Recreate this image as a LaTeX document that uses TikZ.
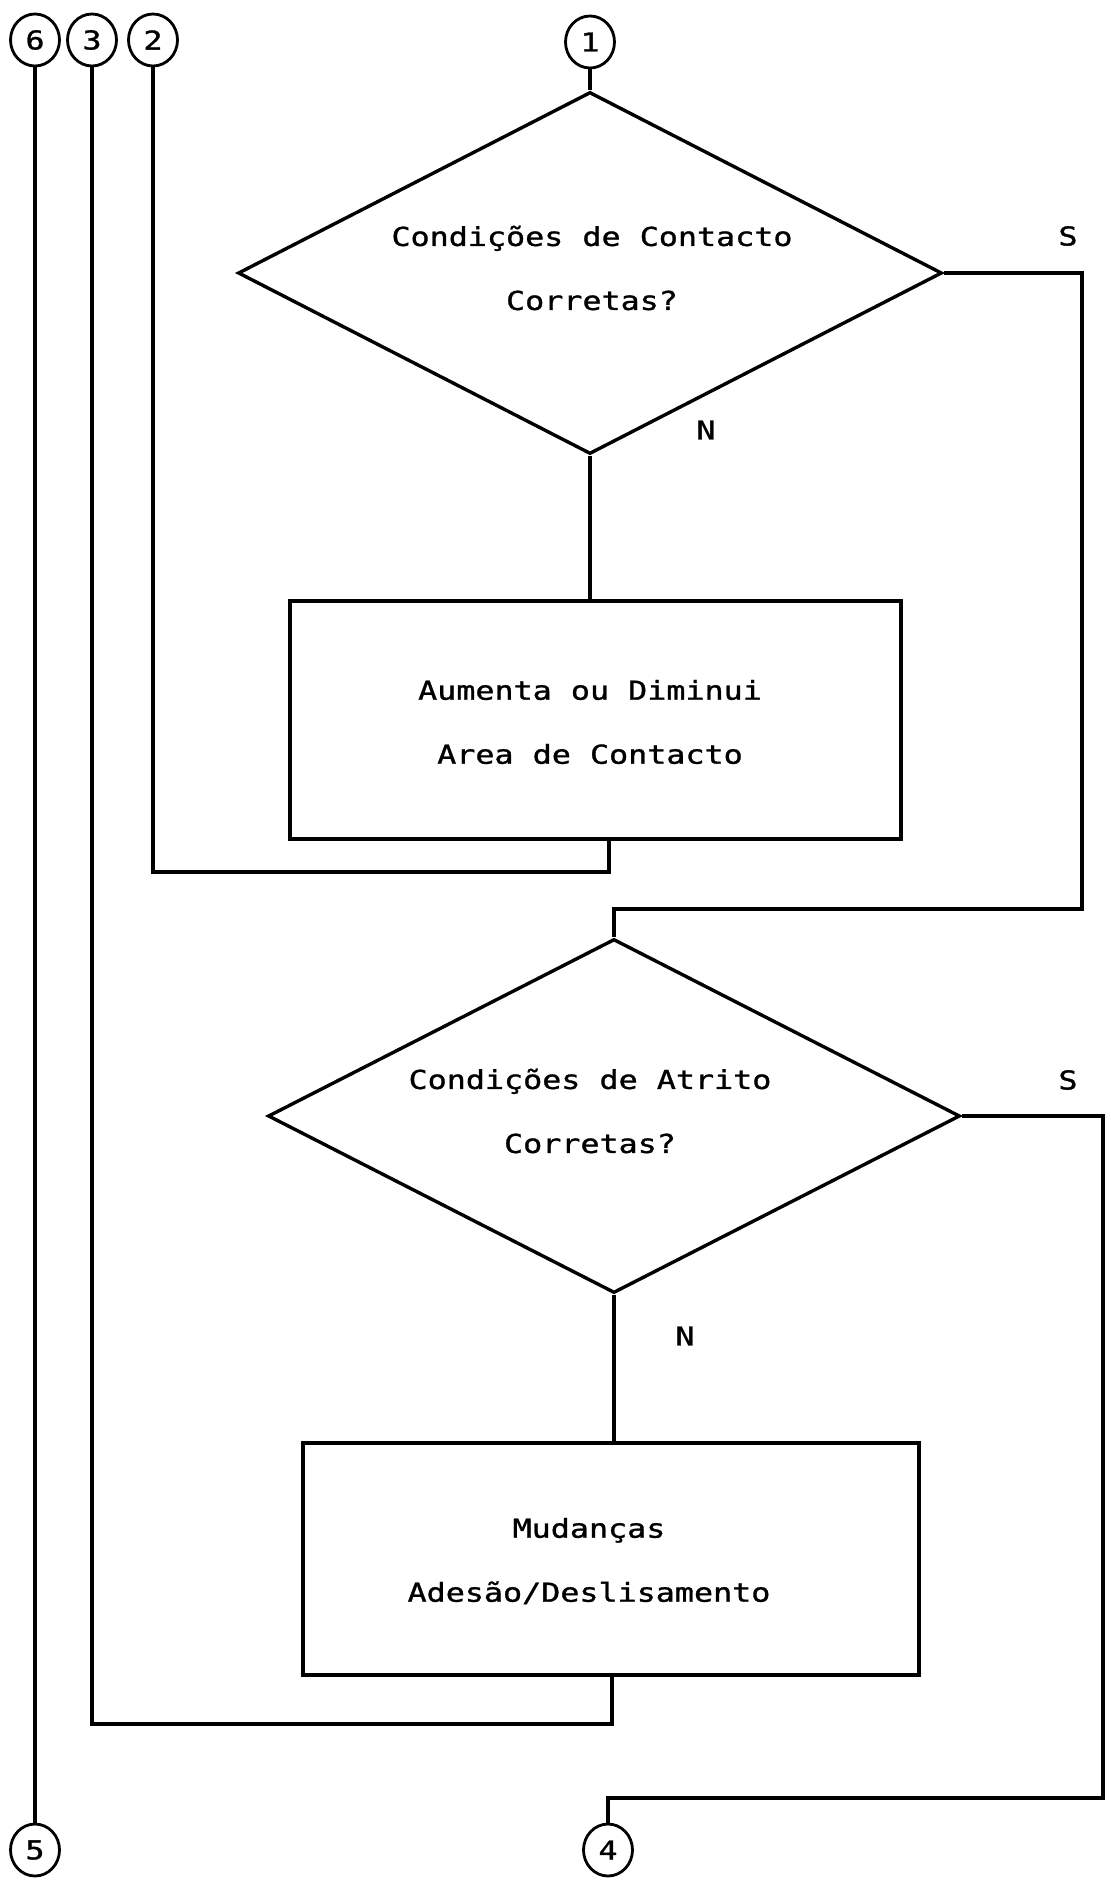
\documentclass[tikz,border=0pt]{standalone}
\usepackage{fontspec}
\newfontfamily\plotfont[FakeStretch=1.22,FakeBold=1.2]{DejaVu Sans Mono}
\usetikzlibrary{shapes.geometric,calc}
\begin{document}
\begin{tikzpicture}[x=0.5pt,y=-0.5pt,
  line width=1.7pt,
  every node/.style={font=\plotfont\fontsize{13}{32}\selectfont},
  conn/.style={draw, ellipse, line width=1.4pt, minimum width=24.5pt, minimum height=26pt, inner sep=0pt},
  decision/.style={draw, diamond, inner sep=0pt},
  procbox/.style={draw, rectangle, inner sep=0pt},
  txt/.style={align=center, inner sep=0pt},
  lbl/.style={inner sep=0pt}]
\useasboundingbox (0,0) rectangle (1110,1884);

% connectors (circles)
\node[conn] (c6) at (35,40) {6};
\node[conn] (c3) at (92,40) {3};
\node[conn] (c2) at (153,40) {2};
\node[conn] (c1) at (590,42) {1};
\node[conn] (c5) at (35,1850) {5};
\node[conn] (c4) at (608,1850) {4};

% shapes
\node[decision, minimum width=352pt, minimum height=181pt] (d1) at (590,273) {};
\node[procbox, minimum width=305.5pt, minimum height=119pt] (b1) at (595.5,720) {};
\node[decision, minimum width=346pt, minimum height=177pt] (d2) at (614,1116) {};
\node[procbox, minimum width=308pt, minimum height=116pt] (b2) at (611,1559) {};

% texts
\node[txt] (t1) at (592,268) {Condições de Contacto\\Corretas?};
\node[txt] (t3) at (590,722) {Aumenta ou Diminui\\Area de Contacto};
\node[txt] (t2) at (590,1111) {Condições de Atrito\\Corretas?};
\node[txt] (t4) at (589,1561) {Mudanças\\Adesão/Deslisamento};

\node[lbl] (s1) at (1068,236) {S};
\node[lbl] (n1) at (706,430) {N};
\node[lbl] (s2) at (1068,1080) {S};
\node[lbl] (n2) at (685,1336) {N};

% bend points
\coordinate (s1r) at (1082,909);
\coordinate (j2) at (609,872);
\coordinate (j3) at (612,1724);
\coordinate (s2r) at (1103,1798);

% lines
\draw (c1.south) -- (d1.north);
\draw (d1.south) -- (d1.south |- b1.north);
\draw (j2 |- b1.south) -- (j2) -| (c2.south);
\draw (d1.east) -| (s1r) -| (d2.north);
\draw (d2.south) -- (d2.south |- b2.north);
\draw (j3 |- b2.south) -- (j3) -| (c3.south);
\draw (d2.east) -| (s2r) -| (c4.north);
\draw (c6.south) -- (c5.north);
\end{tikzpicture}
\end{document}
